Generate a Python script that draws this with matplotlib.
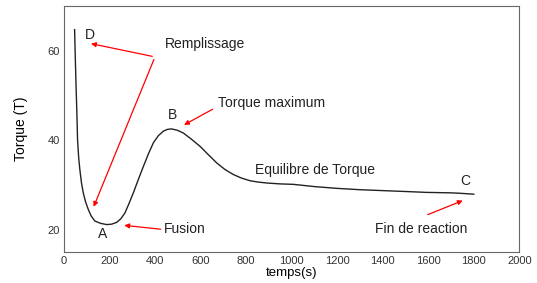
import matplotlib.pyplot as plt

# courbe du couple
temps = [47, 50, 53, 57, 60, 65, 70, 77, 85, 95, 107, 120, 136, 160, 188, 210, 232, 250, 268, 285,
         305, 327, 349, 371, 393, 415, 437, 455, 473, 498, 524, 560, 598, 635, 671, 708, 744, 780,
         818, 855, 891, 950, 1008, 1100, 1200, 1301, 1400, 1500, 1594, 1700, 1741, 1800]
torque = [64.7, 58.5, 52.8, 46.0, 40.0, 36.0, 33.4, 30.5, 28.2, 26.2, 24.5, 23.0, 21.9, 21.4, 21.1,
          21.2, 21.6, 22.4, 23.7, 25.7, 28.2, 31.2, 34.1, 36.9, 39.4, 41.0, 42.0, 42.4, 42.5, 42.2,
          41.6, 40.2, 38.6, 36.7, 34.9, 33.4, 32.3, 31.5, 30.9, 30.6, 30.4, 30.2, 30.1, 29.6, 29.2,
          28.9, 28.7, 28.5, 28.3, 28.2, 28.1, 27.9]

fig = plt.figure(figsize=(5.37, 2.83), dpi=100)
ax = fig.add_axes([0.119, 0.11, 0.848, 0.869])
ax.plot(temps, torque, color='#222222', lw=1.0)

ax.set_xlim(0, 2000)
ax.set_ylim(15, 70)
ax.set_xticks(range(0, 2001, 200))
ax.set_yticks([20, 40, 60])
ax.tick_params(length=0, labelsize=8, labelcolor='#333333', pad=3)
for s in ax.spines.values():
    s.set_color('#666666')
    s.set_linewidth(0.8)

plt.rcParams['font.family'] = 'Liberation Sans'
ax.set_xlabel('temps(s)', fontsize=9.5, family='Liberation Sans', labelpad=1)
ax.set_ylabel('Torque (T)', fontsize=10, family='Liberation Sans', labelpad=14)
for lab in ax.get_xticklabels() + ax.get_yticklabels():
    lab.set_family('Liberation Sans')

fs = 10
kw = dict(fontsize=fs, family='Liberation Sans', color='#222222')
arr = dict(arrowstyle='-|>', color='red', lw=0.9, mutation_scale=7)

ax.text(114, 63.6, 'D', ha='center', va='center', **kw)
ax.text(620, 61.6, 'Remplissage', ha='center', va='center', **kw)
ax.annotate('', xy=(107, 61.7), xytext=(400, 58.6), arrowprops=arr)
ax.annotate('', xy=(126, 24.5), xytext=(400, 58.6), arrowprops=arr)

ax.text(476, 45.7, 'B', ha='center', va='center', **kw)
ax.text(675, 48.3, 'Torque maximum', ha='left', va='center', **kw)
ax.annotate('', xy=(517, 43.1), xytext=(664, 47.2), arrowprops=arr)

ax.text(170, 18.9, 'A', ha='center', va='center', **kw)
ax.text(440, 20.1, 'Fusion', ha='left', va='center', **kw)
ax.annotate('', xy=(253, 21.0), xytext=(437, 20.0), arrowprops=arr)

ax.text(840, 33.3, 'Equilibre de Torque', ha='left', va='center', **kw)

ax.text(1762, 30.8, 'C', ha='center', va='center', **kw)
ax.text(1367, 20.2, 'Fin de reaction', ha='left', va='center', **kw)
ax.annotate('', xy=(1763, 26.7), xytext=(1587, 23.1), arrowprops=arr)

fig.savefig('out.png', dpi=100)
